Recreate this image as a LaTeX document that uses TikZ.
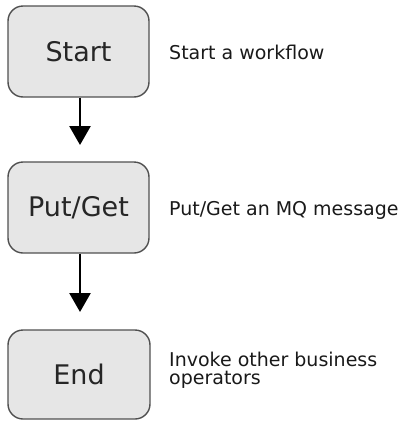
\documentclass[tikz,border=0pt]{standalone}
\usepackage{fontspec}
\setmainfont{DejaVu Sans}
\usetikzlibrary{arrows.meta}
\definecolor{boxfill}{HTML}{E6E6E6}
\definecolor{boxline}{HTML}{505050}
\tikzset{
  stepbox/.style={draw=boxline, line width=1.4pt, fill=boxfill, rounded corners=15pt,
    minimum width=141pt, minimum height=91pt, inner sep=0pt,
    font=\fontsize{27}{30}\selectfont, text=black!85},
  note/.style={anchor=west, inner sep=0pt, align=left,
    font=\fontsize{19}{18}\selectfont, text=black!90},
  flow/.style={line width=2.6pt, -{Triangle[width=21pt,length=19pt]}}
}
\begin{document}
\begin{tikzpicture}[x=1pt,y=-1pt]
\useasboundingbox (0,0) rectangle (404,421);
\node[stepbox] (start) at (78.5,51.5) {Start};
\node[stepbox] (put) at (78.5,207.5) {Put/Get};
\node[stepbox, minimum height=89pt, minimum width=142pt] (end) at (79,374.5) {End};
\node[note] (n1) at (169,52) {Start a workflow};
\node[note] (n2) at (169,210) {Put/Get an MQ message};
\node[note] (n3) at (169,370) {Invoke other business\\operators};
\coordinate (a1) at (80,145);
\coordinate (a2) at (80,312);
\draw[flow] (start.south -| a1) -- (a1);
\draw[flow] (put.south -| a2) -- (a2);
\end{tikzpicture}
\end{document}
